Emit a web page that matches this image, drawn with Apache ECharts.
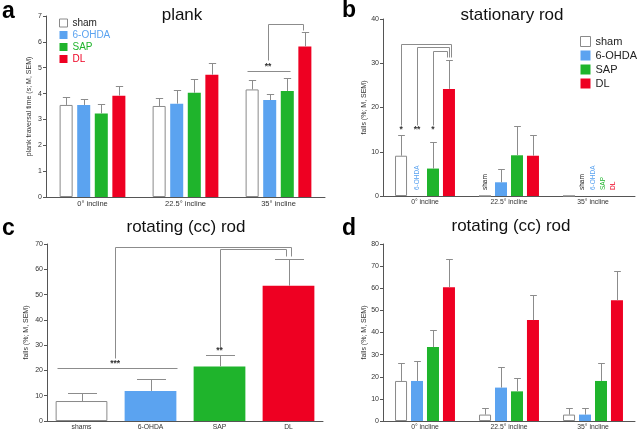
<!DOCTYPE html>
<html><head><meta charset="utf-8">
<script src="https://cdn.jsdelivr.net/npm/echarts@6/dist/echarts.min.js"></script>
<style>html,body{margin:0;padding:0;background:#fff}#c{width:640px;height:433px}</style>
</head><body><div id="c"></div>
<script>
// ---------- data ----------
const inclines = ['0° incline', '22.5° incline', '35° incline'];
const groups = ['sham', '6-OHDA', 'SAP', 'DL'];
const cCats = ['shams', '6-OHDA', 'SAP', 'DL'];

// a: plank traversal time (s), rows = sham, 6-OHDA, SAP, DL ; cols = inclines
const plankMean = [[3.56, 3.52, 4.16], [3.56, 3.61, 3.75], [3.23, 4.03, 4.10], [3.92, 4.73, 5.82]];
const plankSem  = [[0.29, 0.29, 0.35], [0.22, 0.51, 0.25], [0.38, 0.54, 0.50], [0.36, 0.44, 0.55]];
// b: stationary rod falls (%)
const statMean = [[9.1, 0, 0], [0, 3.1, 0], [6.2, 9.2, 0], [24.2, 9.1, 0]];
const statSem  = [[4.7, null, null], [null, 3.0, null], [6.1, 6.6, null], [6.5, 4.7, null]];
// c: rotating (cc) rod, pooled
const rotPoolMean = [7.9, 11.9, 21.6, 53.5];
const rotPoolSem  = [3.2, 4.6, 4.4, 10.7];
// d: rotating (cc) rod per incline
const rotMean = [[18.1, 2.9, 2.9], [18.1, 15.1, 2.9], [33.4, 13.4, 18.1], [60.5, 45.6, 54.6]];
const rotSem  = [[8.3, 3.0, 3.0], [9.2, 9.4, 3.0], [7.7, 6.1, 8.3], [12.7, 11.2, 13.0]];

// significance brackets: points [category, bar slot, value]
const sigA = [[[2, -0.3, 4.87], [2, 2.15, 4.87]], [[2, 0.9, 5.3], [2, 0.9, 6.68], [2, 2.9, 6.68], [2, 2.9, 6.47]]];
const starsA = [[2, 0.9, 5.05, '**']];
const sigB = [
  [[0, 0, 16], [0, 0, 34.4], [0, 3.1, 34.4], [0, 3.1, 31.4]],
  [[0, 1, 16], [0, 1, 33.6], [0, 3.0, 33.6], [0, 3.0, 31.4]],
  [[0, 2, 16], [0, 2, 32.8], [0, 2.9, 32.8], [0, 2.9, 31.4]]
];
const starsB = [[0, 0, 15.1, '*'], [0, 1, 15.1, '**'], [0, 2, 15.1, '*']];
const sigC = [
  [[0, -0.48, 21.1], [1, 0.52, 21.1]],
  [[0, 0.65, 25], [0, 0.65, 68.9], [3, 0.05, 68.9], [3, 0.05, 65.2]],
  [[2, 0, 29], [2, 0, 68.0], [3, -0.05, 68.0], [3, -0.05, 65.2]]
];
const starsC = [[0, 0.65, 22.8, '***'], [2, 0, 27.7, '**']];

// ---------- style ----------
const FONT = '"Liberation Sans", Arial, Helvetica, sans-serif';
const barColors = ['#ffffff', '#5ba3f0', '#1fb42c', '#ee0022'];
const textColors = ['#222222', '#5ba3f0', '#1fb42c', '#ee0022'];
const AX = '#555555', ERR = '#8c8c8c';

const cfgs = [
  {n: 4, bw: 0.14, gap: 0.35},
  {n: 4, bw: 0.143, gap: 0.33},
  {n: 1, bw: 0.75, gap: 0},
  {n: 4, bw: 0.143, gap: 0.33}
];
const crisp = v => Math.round(v) + 0.5;
function slotX(api, cat, slot, cfg) {
  const c = api.coord([cat, 0])[0];
  const band = api.size([1, 0])[0];
  const bw = band * cfg.bw, step = bw * (1 + cfg.gap);
  return c + (slot - (cfg.n - 1) / 2) * step;
}

const series = [];
function errSeries(g, items) {
  const cfg = cfgs[g];
  series.push({
    type: 'custom', name: 'err' + g, xAxisIndex: g, yAxisIndex: g, silent: true, z: 3,
    encode: {x: 0, y: 2}, data: items,
    renderItem: (p, api) => {
      const cat = api.value(0), slot = api.value(1), m = api.value(2), e = api.value(3);
      const band = api.size([1, 0])[0];
      const x = crisp(slotX(api, cat, slot, cfg));
      const y0 = api.coord([cat, m])[1], y1 = crisp(api.coord([cat, m + e])[1]);
      const cw = band * cfg.bw * 0.28;
      return {type: 'group', children: [
        {type: 'line', shape: {x1: x, y1: y0, x2: x, y2: y1}, style: {stroke: ERR, lineWidth: 1}},
        {type: 'line', shape: {x1: x - cw, y1: y1, x2: x + cw, y2: y1}, style: {stroke: ERR, lineWidth: 1}}
      ]};
    }
  });
}
function sigSeries(g, brackets, stars) {
  const cfg = cfgs[g];
  series.push({
    type: 'custom', name: 'sig' + g, xAxisIndex: g, yAxisIndex: g, silent: true, z: 4,
    encode: {x: 0, y: 1}, data: brackets.map(() => [0, 0]),
    renderItem: (p, api) => {
      const b = brackets[p.dataIndex];
      const pts = b.map(q => [crisp(slotX(api, q[0], q[1], cfg)), crisp(api.coord([q[0], q[2]])[1])]);
      return {type: 'polyline', shape: {points: pts}, style: {stroke: ERR, lineWidth: 1, fill: null}};
    }
  });
  series.push({
    type: 'custom', name: 'star' + g, xAxisIndex: g, yAxisIndex: g, silent: true, z: 4,
    encode: {x: 0, y: 1}, data: stars.map(() => [0, 0]),
    renderItem: (p, api) => {
      const s = stars[p.dataIndex];
      return {type: 'text', x: slotX(api, s[0], s[1], cfg), y: api.coord([s[0], s[2]])[1],
        style: {text: s[3], fill: '#333', fontSize: 8.5, fontWeight: 'bold', fontFamily: FONT, align: 'center', verticalAlign: 'middle'}};
    }
  });
}

function groupedPanel(g, mean, sem) {
  const cfg = cfgs[g];
  const errItems = [];
  groups.forEach((name, s) => {
    series.push({
      type: 'bar', name: name, xAxisIndex: g, yAxisIndex: g, data: mean[s],
      barWidth: (cfg.bw * 100) + '%', barGap: (cfg.gap * 100) + '%', silent: true,
      itemStyle: {color: barColors[s], borderColor: s === 0 ? '#8a8a8a' : barColors[s], borderWidth: s === 0 ? 1 : 0}
    });
    mean[s].forEach((m, c) => { if (sem[s][c] != null) errItems.push([c, s, m, sem[s][c]]); });
  });
  errSeries(g, errItems);
}
groupedPanel(0, plankMean, plankSem);
groupedPanel(1, statMean, statSem);
groupedPanel(3, rotMean, rotSem);

// c
series.push({
  type: 'bar', name: 'pooled', xAxisIndex: 2, yAxisIndex: 2, silent: true,
  barWidth: '75%',
  data: rotPoolMean.map((v, i) => ({value: v, itemStyle: {color: barColors[i], borderColor: i === 0 ? '#8a8a8a' : barColors[i], borderWidth: i === 0 ? 1 : 0}}))
});
errSeries(2, rotPoolMean.map((m, i) => [i, 0, m, rotPoolSem[i]]));

sigSeries(0, sigA, starsA);
sigSeries(1, sigB, starsB);
sigSeries(2, sigC, starsC);

// zero-value labels in panel b
const zeroItems = [];
statMean.forEach((row, s) => row.forEach((v, c) => { if (v === 0) zeroItems.push([c, s]); }));
series.push({
  type: 'custom', name: 'zeros', xAxisIndex: 1, yAxisIndex: 1, silent: true, z: 4,
  encode: {x: 0, y: 1}, data: zeroItems,
  renderItem: (p, api) => {
    const c = api.value(0), s = api.value(1);
    const allZero = statMean.every(r => r[c] === 0);
    const x = allZero ? api.coord([c, 0])[0] + (s - 1.5) * 10.3 + 5 : slotX(api, c, s, cfgs[1]);
    return {type: 'text', x: x, y: api.coord([c, 0])[1] - 6, rotation: Math.PI / 2,
      style: {text: groups[s], fill: textColors[s], fontSize: 6.5, fontFamily: FONT, align: 'left', verticalAlign: 'middle'}};
  }
});

// ---------- axes ----------
const grids = [
  {left: 46, top: 16, width: 279, height: 181},
  {left: 383, top: 19, width: 252, height: 177},
  {left: 47, top: 244, width: 276, height: 177},
  {left: 383, top: 244, width: 252, height: 177}
];
const xCats = [inclines, inclines, cCats, inclines];
const xFont = [7.5, 6.8, 6.8, 6.8];
const yMax = [7, 40, 70, 80];
const yStep = [1, 10, 10, 10];
const yNames = ['plank traversal time (s; M, SEM)', 'falls (%; M, SEM)', 'falls (%; M, SEM)', 'falls (%; M, SEM)'];
const yNameGap = [13, 15, 17, 15];

const xAxis = grids.map((g, i) => ({
  type: 'category', gridIndex: i, data: xCats[i],
  axisLine: {lineStyle: {color: AX, width: 1}}, axisTick: {show: false},
  axisLabel: {fontSize: xFont[i], color: '#333', margin: 3, fontFamily: FONT}
}));
const yAxis = grids.map((g, i) => ({
  type: 'value', gridIndex: i, min: 0, max: yMax[i], interval: yStep[i],
  splitLine: {show: false},
  axisLine: {show: true, lineStyle: {color: AX, width: 1}},
  axisTick: {show: true, length: 3, lineStyle: {color: AX}},
  axisLabel: {fontSize: 7, color: '#333', margin: 4, fontFamily: FONT},
  name: yNames[i], nameLocation: 'middle', nameGap: yNameGap[i],
  nameTextStyle: {fontSize: 7, color: '#333', fontFamily: FONT}
}));

const legendData = (colored) => groups.map((g, i) => ({
  name: g,
  textStyle: {color: colored ? textColors[i] : '#222'},
  itemStyle: i === 0 ? {color: '#fff', borderColor: '#8a8a8a', borderWidth: 1} : {color: barColors[i], borderWidth: 0}
}));

const option = {
  animation: false,
  grid: grids,
  xAxis: xAxis,
  yAxis: yAxis,
  legend: [
    {orient: 'vertical', left: 59, top: 18, padding: 0, itemWidth: 8, itemHeight: 8, itemGap: 2, icon: 'rect', selectedMode: false,
      textStyle: {fontSize: 10, fontFamily: FONT}, data: legendData(true)},
    {orient: 'vertical', left: 580, top: 36, padding: 0, itemWidth: 10, itemHeight: 10, itemGap: 3, icon: 'rect', selectedMode: false,
      textStyle: {fontSize: 11, fontFamily: FONT}, data: legendData(false)}
  ],
  graphic: [
    {type: 'text', x: 182, y: 15, style: {text: 'plank', fontSize: 17, fill: '#111', fontFamily: FONT, align: 'center', verticalAlign: 'middle'}},
    {type: 'text', x: 512, y: 15, style: {text: 'stationary rod', fontSize: 17, fill: '#111', fontFamily: FONT, align: 'center', verticalAlign: 'middle'}},
    {type: 'text', x: 186, y: 227, style: {text: 'rotating (cc) rod', fontSize: 17, fill: '#111', fontFamily: FONT, align: 'center', verticalAlign: 'middle'}},
    {type: 'text', x: 511, y: 226, style: {text: 'rotating (cc) rod', fontSize: 17, fill: '#111', fontFamily: FONT, align: 'center', verticalAlign: 'middle'}},
    {type: 'text', x: 2, y: 12, style: {text: 'a', fontSize: 23, fontWeight: 'bold', fill: '#000', fontFamily: FONT, verticalAlign: 'middle'}},
    {type: 'text', x: 342, y: 11, style: {text: 'b', fontSize: 23, fontWeight: 'bold', fill: '#000', fontFamily: FONT, verticalAlign: 'middle'}},
    {type: 'text', x: 2, y: 229, style: {text: 'c', fontSize: 23, fontWeight: 'bold', fill: '#000', fontFamily: FONT, verticalAlign: 'middle'}},
    {type: 'text', x: 342, y: 229, style: {text: 'd', fontSize: 23, fontWeight: 'bold', fill: '#000', fontFamily: FONT, verticalAlign: 'middle'}}
  ],
  series: series
};
const chart = echarts.init(document.getElementById('c'), null, {renderer: 'canvas'});
chart.setOption(option);
</script>
</body></html>
